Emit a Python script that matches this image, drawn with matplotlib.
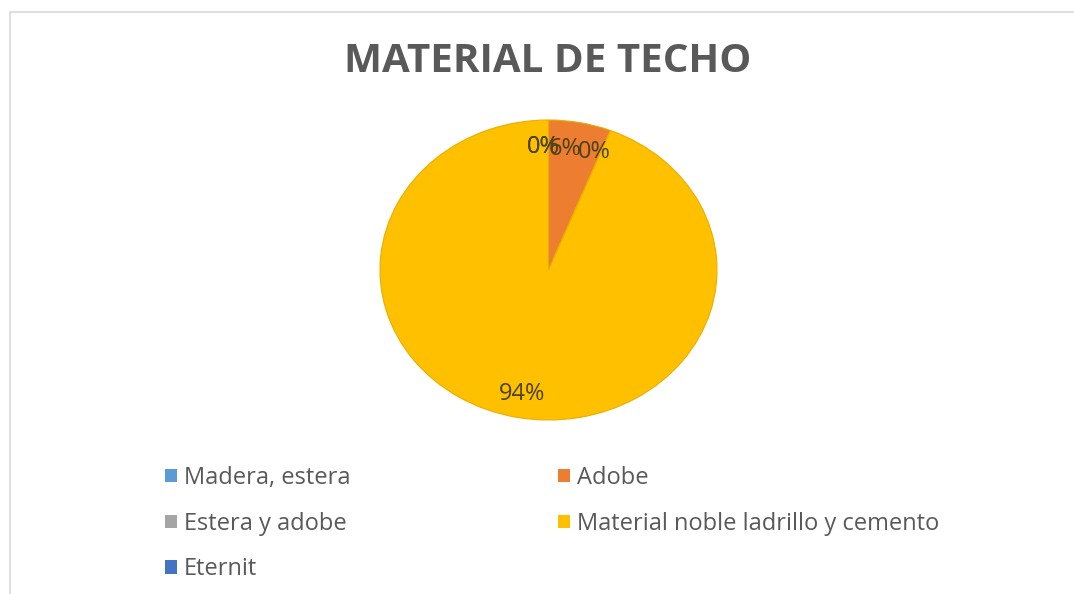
import numpy as np
import matplotlib.pyplot as plt
from matplotlib.patches import Patch, Rectangle

# roof material shares (percent)
categories = ["Madera, estera", "Adobe", "Estera y adobe",
              "Material noble ladrillo y cemento", "Eternit"]
shares = [0, 6, 0, 94, 0]
colors = ["#5B9BD5", "#ED7D31", "#A5A5A5", "#FFC000", "#4472C4"]

plt.rcParams['font.family'] = ['Open Sans', 'DejaVu Sans']

W, H = 1074, 594
fig = plt.figure(figsize=(W / 100, H / 100), dpi=100)

# chart area border (only top and left visible)
fig.patches.append(Rectangle((10 / W, -0.1), 2.0, (H - 12) / H + 0.1,
                             transform=fig.transFigure, fill=False,
                             edgecolor="#D9D9D9", linewidth=1.2))

fig.text(548 / W, 1 - 61 / H, "MATERIAL DE TECHO", ha="center", va="center",
         fontsize=29, fontweight="bold", color="#595959")

# pie is stretched vertically, so the axes keep an auto aspect
ax = fig.add_axes([380 / W, 1 - 420 / H, 337 / W, 300 / H])
wedges, texts, autotexts = ax.pie(
    shares, colors=colors, startangle=90, counterclock=False,
    autopct=lambda p: f"{p:.0f}%", pctdistance=0.83,
    wedgeprops=dict(edgecolor="#E8AE00", linewidth=0.8),
    textprops=dict(fontsize=17, color="#4B4218"))
ax.set_aspect('auto')
ax.set_xlim(-1, 1)
ax.set_ylim(-1, 1)

# small slices crowd together at the top; nudge their labels like Excel does
nudges = {0: (-0.03, -0.01), 1: (-0.055, -0.008), 2: (-0.036, 0.015),
          3: (0.0, -0.012), 4: (-0.03, -0.01)}
for i, (dx, dy) in nudges.items():
    x, y = autotexts[i].get_position()
    autotexts[i].set_position((x + dx, y + dy))

# legend laid out row-wise in two columns
order = [0, 2, 4, 1, 3]
handles = [Patch(facecolor=colors[i], edgecolor="none") for i in order]
labels = [categories[i] for i in order]
fig.legend(handles, labels, ncol=2, loc="upper left",
           bbox_to_anchor=(165 / W, 1 - 466 / H), frameon=False,
           borderpad=0, borderaxespad=0,
           fontsize=17, labelcolor="#595959", handlelength=0.5,
           handleheight=0.5, handletextpad=0.3, columnspacing=8.8,
           labelspacing=0.92)

fig.savefig("out.png", dpi=100, facecolor="white")
